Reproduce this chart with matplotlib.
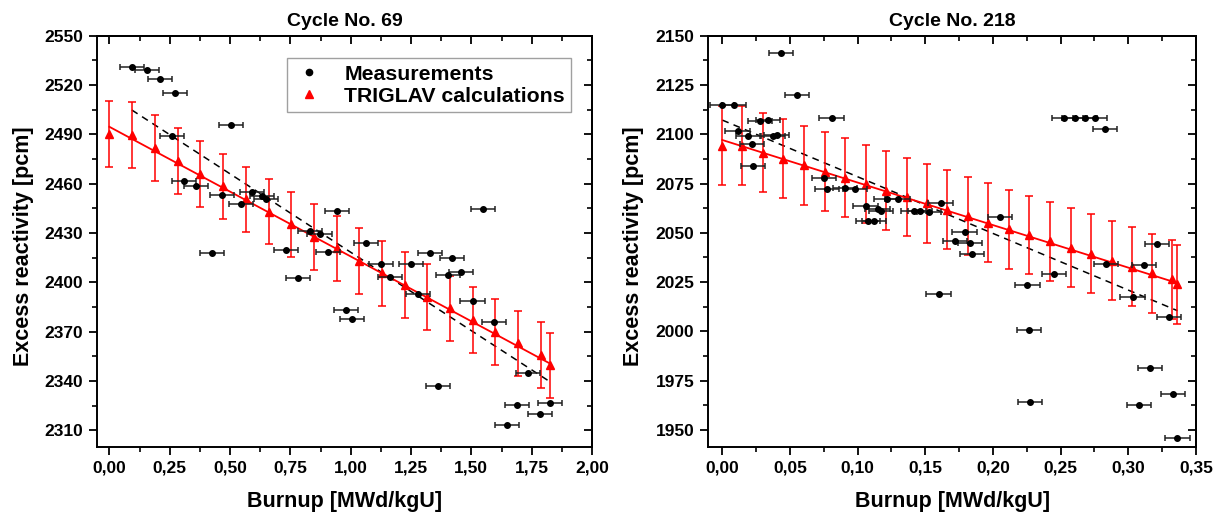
import numpy as np
import matplotlib
matplotlib.use("Agg")
import matplotlib.pyplot as plt
from matplotlib.ticker import MultipleLocator, FuncFormatter
from matplotlib.lines import Line2D

plt.rcParams['font.family'] = ['Liberation Sans', 'DejaVu Sans']
plt.rcParams['font.weight'] = 'bold'

# ---- Cycle No. 69 ----
m69_x = [0.093, 0.157, 0.209, 0.273, 0.258, 0.505, 0.310, 0.359, 0.466, 0.544,
         0.592, 0.634, 0.648, 0.831, 0.871, 0.945, 0.732, 1.063, 1.549, 0.427,
         0.780, 0.905, 0.981, 1.007, 1.124, 1.249, 1.163, 1.329, 1.420, 1.402,
         1.457, 1.280, 1.505, 1.595, 1.363, 1.733, 1.690, 1.827, 1.783, 1.649]
m69_y = [2530.8, 2529.3, 2523.6, 2515.3, 2489.1, 2495.5, 2461.7, 2458.3, 2453.2, 2447.7,
         2455.1, 2452.6, 2450.4, 2431.0, 2429.5, 2443.5, 2419.6, 2424.0, 2444.7, 2418.0,
         2402.7, 2418.2, 2383.0, 2377.4, 2411.0, 2411.0, 2403.0, 2418.0, 2414.5, 2404.2,
         2406.2, 2393.0, 2388.7, 2376.0, 2336.8, 2344.9, 2325.4, 2326.6, 2319.8, 2312.9]
c69_x = [0.0, 0.095, 0.191, 0.283, 0.377, 0.472, 0.565, 0.662, 0.754, 0.848, 0.942,
         1.036, 1.130, 1.225, 1.317, 1.411, 1.505, 1.599, 1.694, 1.787, 1.827]
c69_y = [2490.0, 2489.6, 2481.8, 2474.0, 2466.0, 2458.3, 2450.4, 2443.0, 2435.2, 2427.7,
         2420.6, 2413.0, 2405.4, 2398.3, 2391.2, 2384.1, 2377.0, 2369.9, 2362.8, 2355.7,
         2349.4]
fit69_meas_x = [0.093, 1.827]
fit69_meas_y = [2504.8, 2339.4]
fit69_calc_x = [0.0, 1.827]
fit69_calc_y = [2494.6, 2350.5]

# ---- Cycle No. 218 ----
m218_x = [0.0, 0.0089, 0.0434, 0.055, 0.0808, 0.0278, 0.034, 0.0114, 0.0188, 0.0377,
          0.0402, 0.0222, 0.0225, 0.0751, 0.0776, 0.0906, 0.098, 0.1059, 0.1148, 0.1172,
          0.1078, 0.112, 0.1214, 0.1295, 0.1414, 0.146, 0.1529, 0.1613, 0.172, 0.183,
          0.179, 0.205, 0.2526, 0.2603, 0.2679, 0.2755, 0.2829, 0.3213, 0.1846, 0.245,
          0.2255, 0.2267, 0.2272, 0.2836, 0.3117, 0.3031, 0.3301, 0.3159, 0.3331, 0.3077,
          0.3363, 0.1598]
m218_y = [2115.0, 2114.7, 2141.4, 2120.1, 2108.1, 2106.6, 2107.2, 2101.5, 2099.0, 2099.3,
          2099.8, 2095.1, 2083.9, 2078.0, 2072.4, 2072.9, 2072.4, 2063.6, 2062.1, 2060.9,
          2056.0, 2056.0, 2067.0, 2067.2, 2061.1, 2061.1, 2060.4, 2065.1, 2045.7, 2045.0,
          2050.3, 2058.2, 2108.1, 2108.1, 2108.1, 2108.1, 2102.7, 2044.2, 2039.1, 2029.3,
          2023.4, 2000.7, 1964.1, 2034.2, 2033.7, 2017.5, 2007.2, 1981.3, 1968.3, 1962.8,
          1945.8, 2019.0]
c218_x = [0.0, 0.0148, 0.0298, 0.045, 0.0603, 0.0756, 0.0904, 0.1059, 0.1209, 0.1362,
          0.1514, 0.1662, 0.1817, 0.1965, 0.2117, 0.2267, 0.2420, 0.2573, 0.2725, 0.2876,
          0.3026, 0.3176, 0.3326, 0.3363]
c218_y = [2094.1, 2094.1, 2090.7, 2087.5, 2084.2, 2081.0, 2078.0, 2074.8, 2071.4, 2068.2,
          2065.0, 2061.7, 2058.5, 2055.2, 2051.9, 2048.9, 2045.7, 2042.4, 2039.3, 2035.9,
          2032.8, 2029.5, 2026.4, 2023.9]
fit218_meas_x = [0.0, 0.3363]
fit218_meas_y = [2107.2, 2010.5]
fit218_calc_x = [0.0, 0.3363]
fit218_calc_y = [2097.1, 2024.5]

calc_err = 20


def comma_fmt(decimals):
    return FuncFormatter(lambda v, p: ('{:.%df}' % decimals).format(v).replace('.', ','))


def drawPanel(ax, mx, my, mxerr, cx, cy, fmx, fmy, fcx, fcy, title,
              xlim, ylim, xmaj, xmin, ymaj, ymin, ylabel_x):
    ax.plot(fmx, fmy, color='black', ls=(0, (4.5, 3.5)), lw=1.1, zorder=2)
    ax.plot(fcx, fcy, color='red', lw=1.3, zorder=2)
    ax.errorbar(cx, cy, yerr=calc_err, fmt='^', color='red', ms=5.5,
                ecolor='red', elinewidth=1.1, capsize=3, capthick=1.1, zorder=3)
    ax.errorbar(mx, my, xerr=mxerr, fmt='o', color='black', ms=4,
                ecolor='#222222', elinewidth=1.1, capsize=2.5, capthick=1.1, zorder=4)
    ax.set_xlim(*xlim)
    ax.set_ylim(*ylim)
    ax.set_title(title, fontsize=14, fontweight='bold', pad=7)
    ax.set_xlabel('Burnup [MWd/kgU]', fontsize=15.5, fontweight='bold', labelpad=11)
    ax.set_ylabel('Excess reactivity [pcm]', fontsize=15.5, fontweight='bold')
    ax.yaxis.set_label_coords(ylabel_x, 0.487)
    ax.xaxis.set_major_locator(MultipleLocator(xmaj))
    ax.xaxis.set_minor_locator(MultipleLocator(xmin))
    ax.yaxis.set_major_locator(MultipleLocator(ymaj))
    ax.yaxis.set_minor_locator(MultipleLocator(ymin))
    ax.xaxis.set_major_formatter(comma_fmt(2))
    ax.yaxis.set_major_formatter(FuncFormatter(lambda v, p: '%d' % v))
    ax.tick_params(which='major', direction='out', length=6, width=1.3,
                   labelsize=12.5, pad=4)
    ax.tick_params(which='minor', direction='out', length=3.5, width=1.2)
    for s in ax.spines.values():
        s.set_linewidth(1.4)
    for lab in ax.get_xticklabels() + ax.get_yticklabels():
        lab.set_fontweight('bold')
    top = ax.secondary_xaxis('top')
    top.xaxis.set_major_locator(MultipleLocator(xmaj))
    top.xaxis.set_minor_locator(MultipleLocator(xmin))
    top.tick_params(which='major', direction='in', length=6, width=1.3, labeltop=False)
    top.tick_params(which='minor', direction='in', length=3.5, width=1.2)
    top.spines['top'].set_linewidth(1.4)
    right = ax.secondary_yaxis('right')
    right.yaxis.set_major_locator(MultipleLocator(ymaj))
    right.yaxis.set_minor_locator(MultipleLocator(ymin))
    right.tick_params(which='major', direction='in', length=6, width=1.3, labelright=False)
    right.tick_params(which='minor', direction='in', length=3.5, width=1.2)
    right.spines['right'].set_linewidth(1.4)


fig = plt.figure(figsize=(12.30, 5.19), dpi=100)
W, H = 1230.0, 519.0
ax1 = fig.add_axes([97.3 / W, 1 - 446.7 / H, (592 - 97.3) / W, (446.7 - 35.7) / H])
ax2 = fig.add_axes([708.3 / W, 1 - 446.7 / H, (1196 - 708.3) / W, (446.7 - 35.7) / H])

drawPanel(ax1, m69_x, m69_y, 0.05, c69_x, c69_y, fit69_meas_x, fit69_meas_y,
          fit69_calc_x, fit69_calc_y, 'Cycle No. 69',
          (-0.05, 2.0), (2300, 2550), 0.25, 0.125, 30, 15, -0.128)
drawPanel(ax2, m218_x, m218_y, 0.009, c218_x, c218_y, fit218_meas_x, fit218_meas_y,
          fit218_calc_x, fit218_calc_y, 'Cycle No. 218',
          (-0.0103, 0.35), (1941.5, 2150), 0.05, 0.025, 25, 12.5, -0.131)

handles = [Line2D([], [], ls='none', marker='o', color='black', ms=4.5),
           Line2D([], [], ls='none', marker='^', color='red', ms=6)]
leg = ax1.legend(handles, ['Measurements', 'TRIGLAV calculations'],
                 loc='upper right', bbox_to_anchor=(0.9585, 0.945), borderaxespad=0,
                 fancybox=False, edgecolor='#888888',
                 prop={'weight': 'bold', 'size': 15.3}, handlelength=1.5,
                 handletextpad=0.9, borderpad=0.3, labelspacing=0.15)
leg.get_frame().set_linewidth(1.0)

fig.savefig('out.png', dpi=100)
